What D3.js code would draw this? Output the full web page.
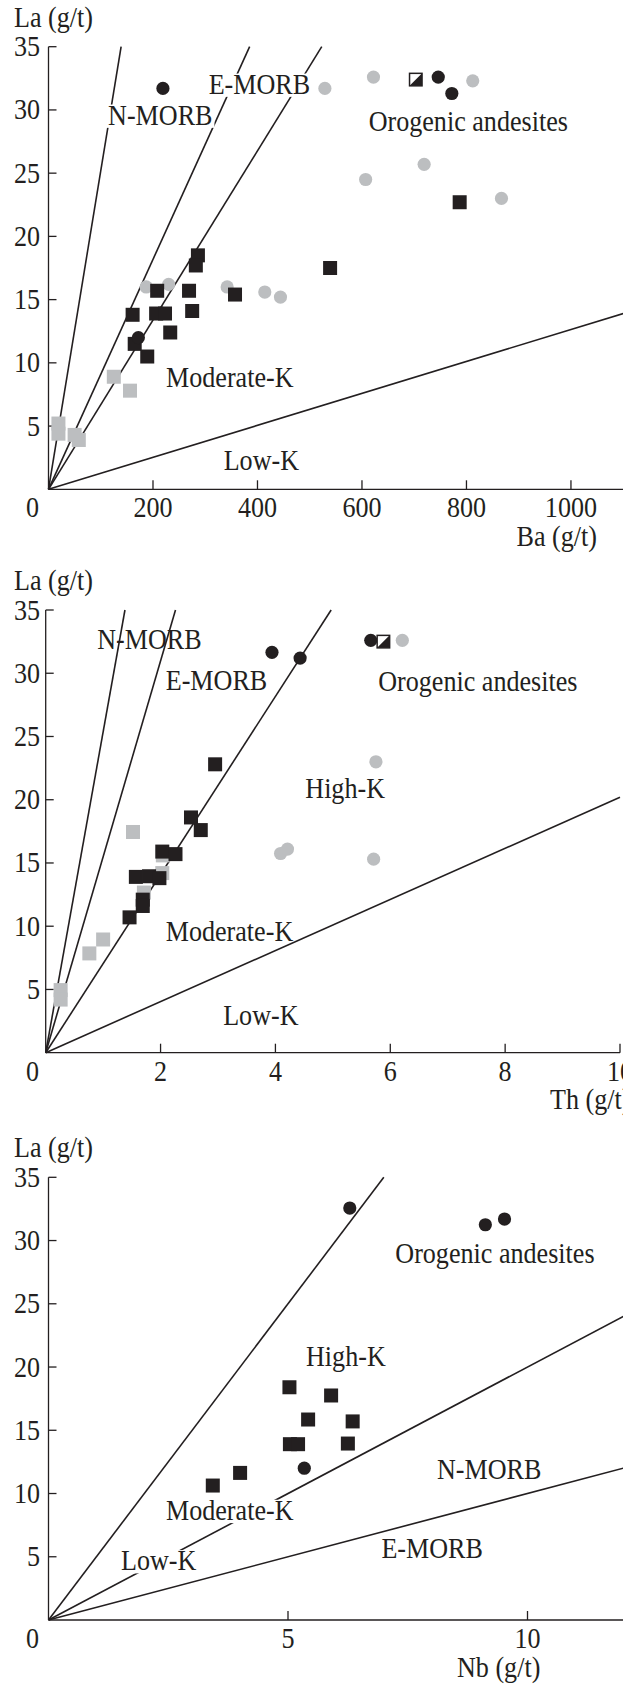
<!DOCTYPE html>
<html>
<head>
<meta charset="utf-8">
<script src="https://cdn.jsdelivr.net/npm/d3@7"></script>
<style>
html,body{margin:0;padding:0;background:#fff;}
svg{display:block;}
text{font-family:"Liberation Serif","Times New Roman",serif;fill:#231f20;}
</style>
</head>
<body>
<div id="chart"></div>
<script>
// ---------------- DATA ----------------
// Panel 1: La vs Ba
const p1BlackCircles = [[219,31.7],[746,32.6],[772,31.3],[172,12.0]];
const p1GrayCircles = [[529,31.7],[622,32.6],[812,32.3],[719,25.7],[607,24.5],[867,23.0],[187,16.0],[230,16.2],[342,16.0],[414,15.6],[444,15.2]];
const p1BlackSquares = [[787,22.7],[286,18.5],[282,17.7],[539,17.5],[208,15.7],[269,15.7],[357,15.4],[161,13.8],[206,13.9],[223,13.9],[275,14.1],[233,12.4],[165,11.5],[189,10.5]];
const p1GraySquares = [[125,8.9],[156,7.8],[19,5.2],[19,4.4],[50,4.3],[58,3.9]];
const p1HalfSquares = [[703,32.4]];
const p1Lines = [[139,35],[385,35],[523,35],[1100,13.9]];
const p1XTicks = [200,400,600,800,1000];

// Panel 2: La vs Th
const p2BlackCircles = [[3.94,31.65],[4.43,31.2],[5.66,32.6]];
const p2GrayCircles = [[6.21,32.6],[5.75,23.0],[4.09,15.75],[4.21,16.1],[5.71,15.3]];
const p2BlackSquares = [[2.95,22.8],[2.53,18.6],[2.70,17.6],[2.03,15.9],[2.26,15.7],[1.57,13.9],[1.80,13.95],[1.98,13.8],[1.69,12.1],[1.69,11.6],[1.46,10.7]];
const p2GraySquares = [[1.52,17.45],[2.04,15.6],[2.03,14.2],[1.71,12.66],[0.76,7.85],[1.0,8.95],[0.26,4.95],[0.26,4.2]];
const p2HalfSquares = [[5.88,32.5]];
const p2Lines = [[1.38,35],[2.26,35],[4.97,35],[10,20.2]];
const p2XTicks = [2,4,6,8,10];

// Panel 3: La vs Nb
const p3BlackCircles = [[6.29,32.57],[9.12,31.25],[9.52,31.7],[5.34,12.0]];
const p3BlackSquares = [[5.03,18.4],[5.9,17.75],[5.42,15.85],[6.35,15.7],[5.04,13.9],[5.21,13.9],[6.25,13.95],[4.0,11.63],[3.43,10.63]];
const p3Lines = [[7,35],[12,24],[12,12]];
const p3XTicks = [5,10];

const yTicks = [5,10,15,20,25,30,35];

// Field labels [text, x, y, whiteBackground] in data units
const p1Labels = [["N-MORB",114,28.82,true],["E-MORB",306.5,31.27,true],["Orogenic andesites",612.8,28.37,false],["Moderate-K",225,8.07,false],["Low-K",335.3,1.53,false]];
const p2Labels = [["N-MORB",0.896,31.92,false],["E-MORB",2.09,28.68,false],["Orogenic andesites",5.79,28.63,false],["High-K",4.52,20.1,false],["Moderate-K",2.09,8.84,false],["Low-K",3.09,2.19,false]];
const p3Labels = [["Orogenic andesites",7.24,28.2,false],["High-K",5.376,20.1,false],["N-MORB",8.11,11.13,false],["Moderate-K",2.453,7.9,true],["E-MORB",6.95,4.89,false],["Low-K",1.514,3.92,true]];

// ---------------- DRAW ----------------
const W = 623, H = 1686;
const BLACK = "#231f20", GRAY = "#bcbec0";
const FS = 29, SX = 0.9;
const svg = d3.select("#chart").append("svg").attr("width", W).attr("height", H);

function addText(g, str, x, y, anchor) {
  return g.append("text")
    .attr("transform", `translate(${x},${y}) scale(${SX},1)`)
    .attr("text-anchor", anchor || "start")
    .attr("font-size", FS).text(str);
}

const panels = [
  {xDom:[0,1100], xRange:[48.5,623.2], axisEnd:623, yRange:[489.3,46.7], xTicks:p1XTicks, xTitle:"Ba (g/t)", xTitleX:516.5,
   lines:p1Lines, labels:p1Labels, bc:p1BlackCircles, gc:p1GrayCircles, bs:p1BlackSquares, gs:p1GraySquares, hs:p1HalfSquares},
  {xDom:[0,10], xRange:[45.7,620], axisEnd:620, yRange:[1052.7,610], xTicks:p2XTicks, xTitle:"Th (g/t)", xTitleX:550,
   lines:p2Lines, labels:p2Labels, bc:p2BlackCircles, gc:p2GrayCircles, bs:p2BlackSquares, gs:p2GraySquares, hs:p2HalfSquares},
  {xDom:[0,12], xRange:[48.5,623.3], axisEnd:623, yRange:[1620,1177.3], xTicks:p3XTicks, xTitle:"Nb (g/t)", xTitleX:457,
   lines:p3Lines, labels:p3Labels, bc:p3BlackCircles, gc:[], bs:p3BlackSquares, gs:[], hs:[]}
];

panels.forEach(p => {
  const x = d3.scaleLinear().domain(p.xDom).range(p.xRange);
  const y = d3.scaleLinear().domain([0,35]).range(p.yRange);
  const g = svg.append("g");
  const x0 = x(0), y0 = y(0);

  // reference lines
  g.selectAll("line.ref").data(p.lines).enter().append("line")
    .attr("x1", x0).attr("y1", y0)
    .attr("x2", d => x(d[0])).attr("y2", d => y(d[1]))
    .attr("stroke", BLACK).attr("stroke-width", 1.6);

  // field labels with optional white background
  p.labels.forEach(l => {
    const lx = x(l[1]), ly = y(l[2]);
    const t = addText(g, l[0], lx, ly);
    if (l[3]) {
      const bb = t.node().getBBox();
      g.insert("rect", () => t.node())
        .attr("x", lx - 2).attr("y", ly - FS*0.7)
        .attr("width", bb.width*SX + 4).attr("height", FS*0.7 + 3)
        .attr("fill", "#fff");
    }
  });

  // axes
  g.append("line").attr("x1", x0).attr("y1", y0).attr("x2", p.axisEnd).attr("y2", y0)
    .attr("stroke", BLACK).attr("stroke-width", 1.3);
  g.append("line").attr("x1", x0).attr("y1", y0).attr("x2", x0).attr("y2", y(35))
    .attr("stroke", BLACK).attr("stroke-width", 1.3);
  // y ticks (inward)
  g.selectAll("line.yt").data(yTicks).enter().append("line")
    .attr("x1", x0).attr("x2", x0 + 8).attr("y1", d => y(d)).attr("y2", d => y(d))
    .attr("stroke", BLACK).attr("stroke-width", 1.3);
  yTicks.forEach(d => addText(g, d, 40, y(d) + 9.5, "end"));
  // x ticks (inward)
  g.selectAll("line.xt").data(p.xTicks).enter().append("line")
    .attr("x1", d => x(d)).attr("x2", d => x(d)).attr("y1", y0).attr("y2", y0 - 9)
    .attr("stroke", BLACK).attr("stroke-width", 1.3);
  p.xTicks.forEach(d => addText(g, d, x(d), y0 + 28, "middle"));
  addText(g, "0", 32.6, y0 + 28, "middle");
  // titles
  addText(g, "La (g/t)", 14, y(35) - 20);
  addText(g, p.xTitle, p.xTitleX, y0 + 56.5);

  // markers
  const R = 6.6, S = 14;
  g.selectAll("circle.gc").data(p.gc).enter().append("circle")
    .attr("cx", d => x(d[0])).attr("cy", d => y(d[1])).attr("r", R).attr("fill", GRAY);
  g.selectAll("rect.gs").data(p.gs).enter().append("rect")
    .attr("x", d => x(d[0]) - S/2).attr("y", d => y(d[1]) - S/2).attr("width", S).attr("height", S).attr("fill", GRAY);
  g.selectAll("rect.bs").data(p.bs).enter().append("rect")
    .attr("x", d => x(d[0]) - S/2).attr("y", d => y(d[1]) - S/2).attr("width", S).attr("height", S).attr("fill", BLACK);
  g.selectAll("circle.bc").data(p.bc).enter().append("circle")
    .attr("cx", d => x(d[0])).attr("cy", d => y(d[1])).attr("r", R).attr("fill", BLACK);
  const hs = g.selectAll("g.hs").data(p.hs).enter().append("g")
    .attr("transform", d => `translate(${x(d[0])},${y(d[1])})`);
  const h = S - 1.5;
  hs.append("rect").attr("x", -h/2).attr("y", -h/2).attr("width", h).attr("height", h)
    .attr("fill", "#fff").attr("stroke", BLACK).attr("stroke-width", 1.5);
  hs.append("path").attr("d", `M${h/2},${-h/2}L${h/2},${h/2}L${-h/2},${h/2}Z`).attr("fill", BLACK);
});
</script>
</body>
</html>
